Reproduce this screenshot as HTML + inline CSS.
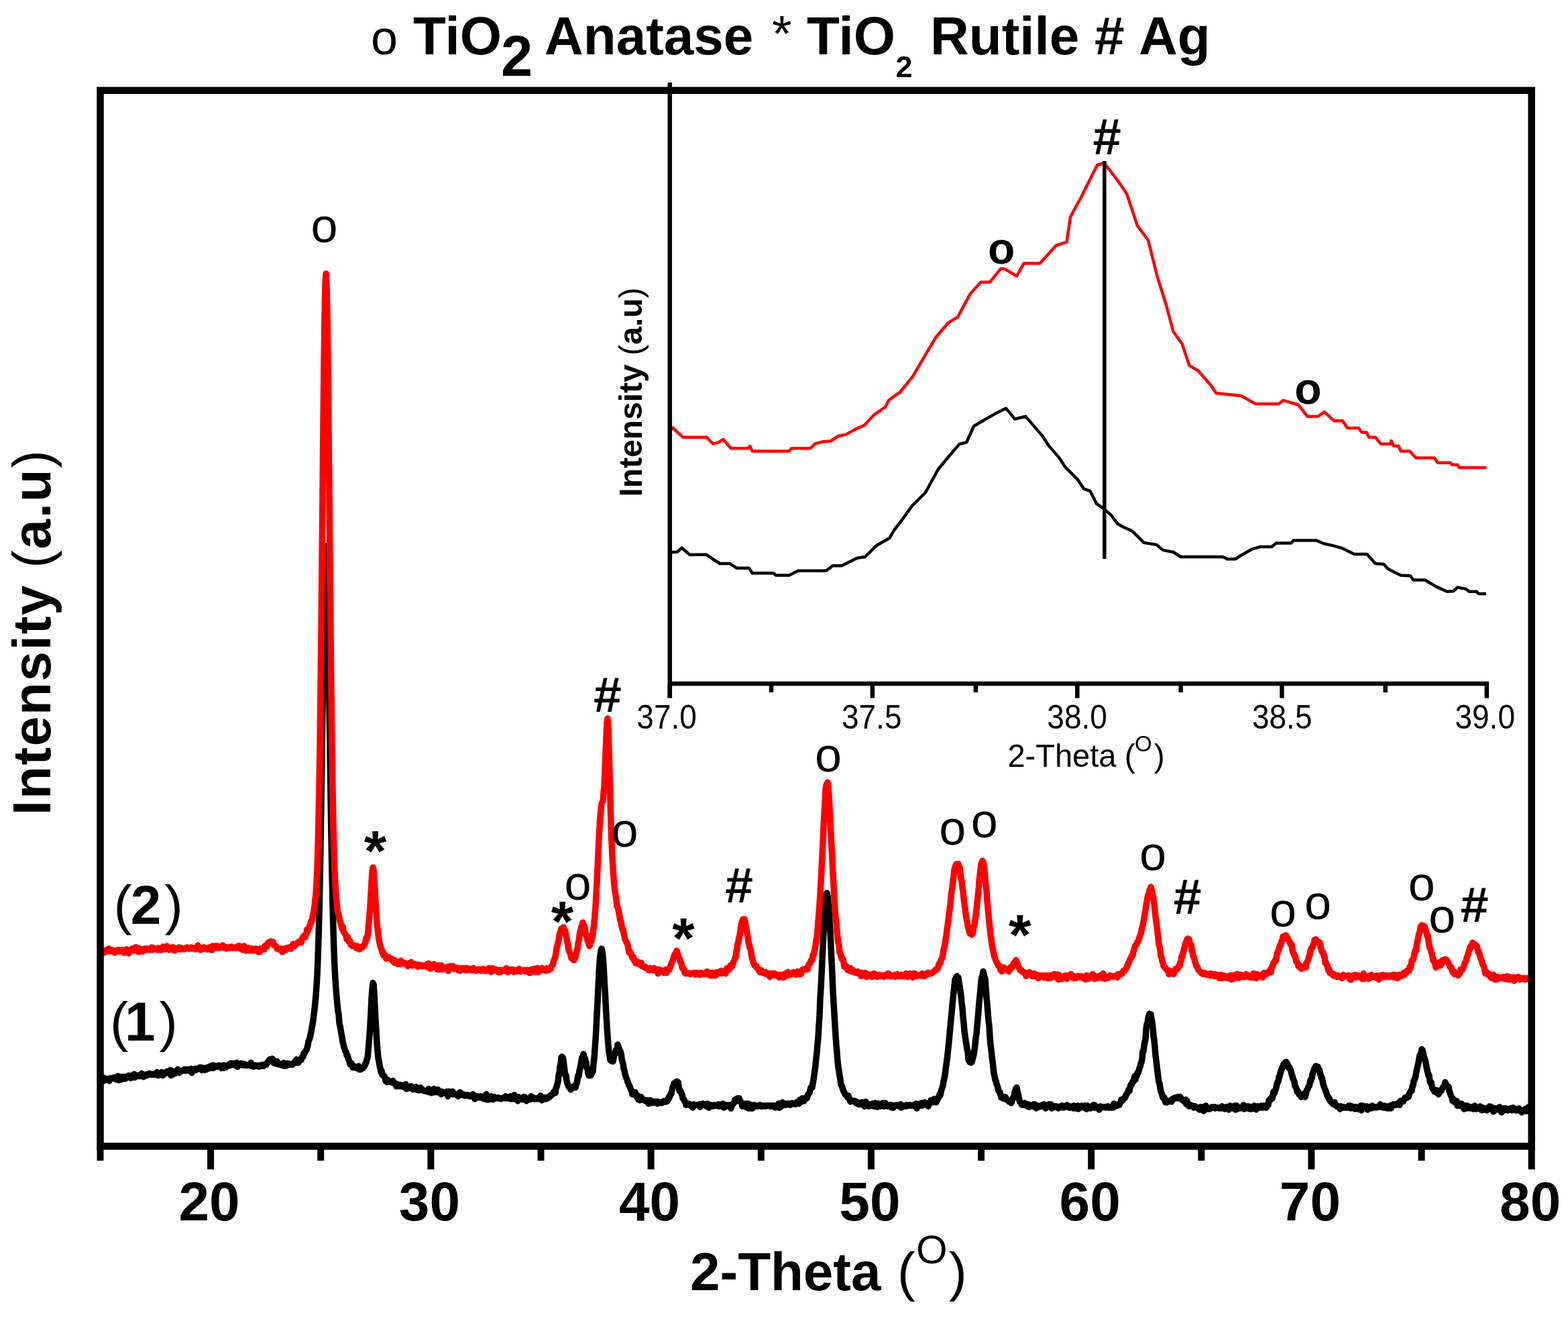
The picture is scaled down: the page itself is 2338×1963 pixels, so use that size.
<!DOCTYPE html>
<html><head><meta charset="utf-8"><style>html,body{margin:0;padding:0;background:#fff;overflow:hidden}svg{display:block}</style></head>
<body>
<svg width="2338" height="1963" viewBox="0 0 2338 1963" font-family="Liberation Sans, Arial, Helvetica, sans-serif">
<rect width="2338" height="1963" fill="#fff"/>
<path d="M152 1609 L153 1612 L154 1606 L155 1608 L156 1609 L157 1608 L158 1609 L159 1610 L160 1608 L161 1608 L162 1609 L163 1611 L164 1608 L165 1607 L166 1608 L167 1608 L168 1607 L169 1607 L170 1606 L171 1606 L172 1606 L173 1609 L174 1606 L175 1607 L176 1604 L177 1610 L178 1605 L179 1606 L180 1606 L181 1609 L182 1605 L183 1606 L184 1608 L185 1605 L186 1607 L187 1608 L188 1605 L189 1606 L190 1605 L191 1605 L192 1603 L193 1605 L194 1604 L195 1607 L196 1606 L197 1603 L198 1605 L199 1604 L200 1601 L201 1606 L202 1605 L203 1603 L204 1604 L205 1604 L206 1603 L207 1604 L208 1603 L209 1604 L210 1604 L211 1600 L212 1603 L213 1602 L214 1605 L215 1602 L216 1602 L217 1602 L218 1603 L219 1603 L220 1601 L221 1601 L222 1602 L223 1600 L224 1601 L225 1601 L226 1602 L227 1602 L228 1601 L229 1601 L230 1601 L231 1602 L232 1600 L233 1600 L234 1598 L235 1600 L236 1603 L237 1602 L238 1600 L239 1602 L240 1601 L241 1598 L242 1600 L243 1603 L244 1599 L245 1600 L246 1599 L247 1600 L248 1598 L249 1597 L250 1597 L251 1597 L252 1598 L253 1598 L254 1595 L255 1603 L256 1597 L257 1597 L258 1598 L259 1601 L260 1597 L261 1600 L262 1598 L263 1598 L264 1596 L265 1594 L266 1597 L267 1599 L268 1597 L269 1596 L270 1597 L271 1596 L272 1596 L273 1596 L274 1596 L275 1594 L276 1595 L277 1596 L278 1594 L279 1594 L280 1594 L281 1596 L282 1594 L283 1596 L284 1597 L285 1593 L286 1599 L287 1596 L288 1594 L289 1594 L290 1594 L291 1593 L292 1595 L293 1593 L294 1594 L295 1593 L296 1593 L297 1592 L298 1591 L299 1593 L300 1591 L301 1595 L302 1592 L303 1592 L304 1592 L305 1595 L306 1592 L307 1592 L308 1594 L309 1591 L310 1593 L311 1591 L312 1590 L313 1591 L314 1592 L315 1590 L316 1588 L317 1590 L318 1592 L319 1588 L320 1590 L321 1590 L322 1589 L323 1590 L324 1589 L325 1590 L326 1589 L327 1588 L328 1590 L329 1589 L330 1592 L331 1589 L332 1588 L333 1588 L334 1592 L335 1588 L336 1591 L337 1591 L338 1589 L339 1588 L340 1588 L341 1587 L342 1586 L343 1588 L344 1585 L345 1587 L346 1587 L347 1587 L348 1585 L349 1587 L350 1586 L351 1588 L352 1586 L353 1584 L354 1590 L355 1587 L356 1588 L357 1588 L358 1586 L359 1586 L360 1585 L361 1586 L362 1587 L363 1588 L364 1586 L365 1586 L366 1588 L367 1588 L368 1588 L369 1588 L370 1587 L371 1587 L372 1588 L373 1587 L374 1584 L375 1589 L376 1588 L377 1589 L378 1590 L379 1588 L380 1588 L381 1588 L382 1589 L383 1588 L384 1589 L385 1589 L386 1590 L387 1588 L388 1589 L389 1589 L390 1589 L391 1587 L392 1588 L393 1589 L394 1588 L395 1587 L396 1586 L397 1587 L398 1585 L399 1583 L400 1583 L401 1581 L402 1579 L403 1580 L404 1581 L405 1580 L406 1578 L407 1579 L408 1584 L409 1581 L410 1585 L411 1582 L412 1583 L413 1582 L414 1586 L415 1586 L416 1586 L417 1587 L418 1587 L419 1586 L420 1587 L421 1588 L422 1588 L423 1584 L424 1589 L425 1589 L426 1587 L427 1588 L428 1588 L429 1585 L430 1587 L431 1587 L432 1587 L433 1586 L434 1586 L435 1586 L436 1587 L437 1586 L438 1585 L439 1583 L440 1584 L441 1583 L442 1579 L443 1584 L444 1583 L445 1584 L446 1581 L447 1580 L448 1579 L449 1580 L450 1576 L451 1575 L452 1575 L453 1570 L454 1570 L455 1568 L456 1566 L457 1565 L458 1562 L459 1558 L460 1552 L461 1550 L462 1547 L463 1543 L464 1538 L465 1532 L466 1527 L467 1520 L468 1512 L469 1505 L470 1494 L471 1484 L472 1469 L473 1454 L474 1429 L475 1398 L476 1361 L477 1315 L478 1260 L479 1196 L480 1127 L481 1055 L482 982 L483 917 L484 864 L485 833 L486 814 L487 827 L488 862 L489 910 L490 975 L491 1046 L492 1117 L493 1186 L494 1250 L495 1303 L496 1349 L497 1386 L498 1417 L499 1442 L500 1460 L501 1474 L502 1487 L503 1497 L504 1507 L505 1512 L506 1525 L507 1529 L508 1535 L509 1541 L510 1546 L511 1553 L512 1556 L513 1561 L514 1564 L515 1567 L516 1568 L517 1573 L518 1573 L519 1576 L520 1580 L521 1582 L522 1586 L523 1586 L524 1585 L525 1586 L526 1591 L527 1591 L528 1590 L529 1590 L530 1590 L531 1592 L532 1592 L533 1592 L534 1593 L535 1589 L536 1594 L537 1594 L538 1594 L539 1593 L540 1593 L541 1592 L542 1591 L543 1590 L544 1588 L545 1585 L546 1584 L547 1579 L548 1577 L549 1567 L550 1555 L551 1543 L552 1528 L553 1510 L554 1488 L555 1475 L556 1465 L557 1467 L558 1480 L559 1501 L560 1521 L561 1537 L562 1555 L563 1566 L564 1577 L565 1582 L566 1588 L567 1592 L568 1598 L569 1596 L570 1602 L571 1602 L572 1604 L573 1604 L574 1606 L575 1611 L576 1610 L577 1613 L578 1610 L579 1610 L580 1611 L581 1612 L582 1612 L583 1613 L584 1613 L585 1614 L586 1611 L587 1614 L588 1615 L589 1616 L590 1615 L591 1619 L592 1619 L593 1616 L594 1618 L595 1617 L596 1619 L597 1617 L598 1619 L599 1618 L600 1618 L601 1620 L602 1619 L603 1620 L604 1620 L605 1616 L606 1623 L607 1623 L608 1622 L609 1621 L610 1621 L611 1620 L612 1622 L613 1619 L614 1621 L615 1623 L616 1624 L617 1622 L618 1622 L619 1623 L620 1620 L621 1624 L622 1623 L623 1624 L624 1625 L625 1624 L626 1625 L627 1621 L628 1624 L629 1624 L630 1624 L631 1625 L632 1626 L633 1626 L634 1626 L635 1626 L636 1627 L637 1625 L638 1625 L639 1623 L640 1628 L641 1627 L642 1627 L643 1629 L644 1626 L645 1627 L646 1628 L647 1623 L648 1628 L649 1627 L650 1626 L651 1627 L652 1628 L653 1624 L654 1627 L655 1629 L656 1629 L657 1628 L658 1631 L659 1627 L660 1629 L661 1629 L662 1629 L663 1629 L664 1629 L665 1630 L666 1627 L667 1631 L668 1634 L669 1627 L670 1627 L671 1630 L672 1630 L673 1630 L674 1628 L675 1627 L676 1631 L677 1631 L678 1631 L679 1631 L680 1631 L681 1631 L682 1631 L683 1634 L684 1632 L685 1632 L686 1628 L687 1632 L688 1631 L689 1632 L690 1632 L691 1631 L692 1633 L693 1633 L694 1633 L695 1633 L696 1633 L697 1632 L698 1633 L699 1633 L700 1634 L701 1633 L702 1634 L703 1634 L704 1634 L705 1631 L706 1635 L707 1633 L708 1638 L709 1635 L710 1635 L711 1635 L712 1634 L713 1635 L714 1636 L715 1636 L716 1635 L717 1634 L718 1636 L719 1637 L720 1637 L721 1636 L722 1638 L723 1637 L724 1636 L725 1631 L726 1639 L727 1638 L728 1635 L729 1639 L730 1637 L731 1636 L732 1634 L733 1638 L734 1638 L735 1639 L736 1636 L737 1635 L738 1636 L739 1637 L740 1637 L741 1637 L742 1637 L743 1636 L744 1637 L745 1637 L746 1637 L747 1638 L748 1637 L749 1637 L750 1637 L751 1636 L752 1636 L753 1637 L754 1634 L755 1637 L756 1636 L757 1637 L758 1637 L759 1636 L760 1635 L761 1634 L762 1638 L763 1638 L764 1637 L765 1637 L766 1638 L767 1632 L768 1634 L769 1638 L770 1638 L771 1639 L772 1641 L773 1635 L774 1638 L775 1638 L776 1637 L777 1638 L778 1638 L779 1639 L780 1638 L781 1635 L782 1635 L783 1639 L784 1638 L785 1641 L786 1637 L787 1638 L788 1638 L789 1638 L790 1639 L791 1636 L792 1634 L793 1638 L794 1637 L795 1636 L796 1638 L797 1638 L798 1638 L799 1637 L800 1638 L801 1637 L802 1638 L803 1637 L804 1637 L805 1637 L806 1633 L807 1637 L808 1640 L809 1636 L810 1637 L811 1636 L812 1637 L813 1636 L814 1638 L815 1637 L816 1637 L817 1637 L818 1635 L819 1634 L820 1635 L821 1633 L822 1632 L823 1632 L824 1631 L825 1629 L826 1627 L827 1626 L828 1629 L829 1622 L830 1620 L831 1616 L832 1612 L833 1603 L834 1599 L835 1590 L836 1586 L837 1576 L838 1575 L839 1576 L840 1580 L841 1588 L842 1596 L843 1603 L844 1603 L845 1611 L846 1615 L847 1617 L848 1620 L849 1621 L850 1622 L851 1624 L852 1622 L853 1622 L854 1620 L855 1621 L856 1620 L857 1618 L858 1621 L859 1616 L860 1615 L861 1609 L862 1603 L863 1604 L864 1596 L865 1592 L866 1587 L867 1581 L868 1576 L869 1575 L870 1571 L871 1575 L872 1577 L873 1581 L874 1584 L875 1592 L876 1593 L877 1600 L878 1603 L879 1603 L880 1603 L881 1603 L882 1601 L883 1599 L884 1597 L885 1585 L886 1577 L887 1563 L888 1550 L889 1533 L890 1511 L891 1494 L892 1471 L893 1451 L894 1436 L895 1424 L896 1417 L897 1414 L898 1418 L899 1426 L900 1439 L901 1458 L902 1475 L903 1494 L904 1513 L905 1530 L906 1544 L907 1557 L908 1568 L909 1573 L910 1580 L911 1581 L912 1579 L913 1582 L914 1582 L915 1576 L916 1573 L917 1571 L918 1567 L919 1564 L920 1566 L921 1557 L922 1561 L923 1562 L924 1567 L925 1567 L926 1570 L927 1577 L928 1583 L929 1585 L930 1593 L931 1595 L932 1601 L933 1604 L934 1607 L935 1609 L936 1613 L937 1615 L938 1618 L939 1619 L940 1622 L941 1625 L942 1626 L943 1631 L944 1628 L945 1628 L946 1630 L947 1628 L948 1631 L949 1634 L950 1636 L951 1633 L952 1639 L953 1636 L954 1640 L955 1637 L956 1635 L957 1638 L958 1639 L959 1639 L960 1639 L961 1640 L962 1641 L963 1640 L964 1640 L965 1641 L966 1640 L967 1645 L968 1641 L969 1640 L970 1640 L971 1641 L972 1642 L973 1644 L974 1642 L975 1642 L976 1643 L977 1642 L978 1643 L979 1644 L980 1645 L981 1642 L982 1643 L983 1643 L984 1644 L985 1643 L986 1643 L987 1644 L988 1643 L989 1643 L990 1641 L991 1642 L992 1642 L993 1642 L994 1642 L995 1641 L996 1638 L997 1638 L998 1634 L999 1634 L1000 1631 L1001 1630 L1002 1625 L1003 1621 L1004 1618 L1005 1615 L1006 1615 L1007 1613 L1008 1613 L1009 1612 L1010 1614 L1011 1613 L1012 1618 L1013 1626 L1014 1625 L1015 1627 L1016 1630 L1017 1631 L1018 1637 L1019 1638 L1020 1639 L1021 1642 L1022 1643 L1023 1647 L1024 1646 L1025 1646 L1026 1646 L1027 1645 L1028 1647 L1029 1648 L1030 1647 L1031 1647 L1032 1647 L1033 1651 L1034 1646 L1035 1647 L1036 1647 L1037 1647 L1038 1647 L1039 1647 L1040 1647 L1041 1647 L1042 1647 L1043 1646 L1044 1650 L1045 1648 L1046 1646 L1047 1647 L1048 1645 L1049 1646 L1050 1647 L1051 1646 L1052 1648 L1053 1649 L1054 1649 L1055 1645 L1056 1648 L1057 1651 L1058 1648 L1059 1649 L1060 1647 L1061 1648 L1062 1648 L1063 1649 L1064 1648 L1065 1647 L1066 1648 L1067 1648 L1068 1648 L1069 1648 L1070 1647 L1071 1646 L1072 1649 L1073 1649 L1074 1648 L1075 1646 L1076 1646 L1077 1648 L1078 1645 L1079 1651 L1080 1647 L1081 1647 L1082 1649 L1083 1648 L1084 1647 L1085 1649 L1086 1648 L1087 1647 L1088 1648 L1089 1649 L1090 1652 L1091 1647 L1092 1647 L1093 1646 L1094 1644 L1095 1643 L1096 1639 L1097 1640 L1098 1638 L1099 1641 L1100 1637 L1101 1637 L1102 1637 L1103 1640 L1104 1641 L1105 1643 L1106 1645 L1107 1649 L1108 1648 L1109 1646 L1110 1648 L1111 1645 L1112 1650 L1113 1650 L1114 1647 L1115 1645 L1116 1652 L1117 1649 L1118 1646 L1119 1652 L1120 1649 L1121 1649 L1122 1652 L1123 1649 L1124 1647 L1125 1649 L1126 1648 L1127 1649 L1128 1648 L1129 1648 L1130 1649 L1131 1648 L1132 1648 L1133 1647 L1134 1649 L1135 1649 L1136 1649 L1137 1648 L1138 1649 L1139 1648 L1140 1648 L1141 1649 L1142 1649 L1143 1648 L1144 1648 L1145 1648 L1146 1648 L1147 1648 L1148 1649 L1149 1648 L1150 1649 L1151 1648 L1152 1648 L1153 1648 L1154 1648 L1155 1650 L1156 1651 L1157 1649 L1158 1649 L1159 1647 L1160 1650 L1161 1645 L1162 1651 L1163 1648 L1164 1650 L1165 1646 L1166 1647 L1167 1643 L1168 1647 L1169 1647 L1170 1646 L1171 1647 L1172 1647 L1173 1646 L1174 1645 L1175 1646 L1176 1645 L1177 1645 L1178 1647 L1179 1645 L1180 1646 L1181 1644 L1182 1645 L1183 1645 L1184 1645 L1185 1645 L1186 1646 L1187 1644 L1188 1644 L1189 1642 L1190 1643 L1191 1645 L1192 1643 L1193 1639 L1194 1643 L1195 1639 L1196 1637 L1197 1640 L1198 1639 L1199 1641 L1200 1637 L1201 1636 L1202 1636 L1203 1637 L1204 1634 L1205 1631 L1206 1630 L1207 1629 L1208 1625 L1209 1621 L1210 1621 L1211 1621 L1212 1615 L1213 1609 L1214 1602 L1215 1595 L1216 1588 L1217 1577 L1218 1569 L1219 1556 L1220 1546 L1221 1529 L1222 1514 L1223 1488 L1224 1473 L1225 1453 L1226 1431 L1227 1410 L1228 1390 L1229 1371 L1230 1357 L1231 1342 L1232 1333 L1233 1331 L1234 1336 L1235 1345 L1236 1357 L1237 1373 L1238 1390 L1239 1410 L1240 1433 L1241 1453 L1242 1477 L1243 1494 L1244 1511 L1245 1528 L1246 1544 L1247 1558 L1248 1569 L1249 1582 L1250 1591 L1251 1596 L1252 1604 L1253 1609 L1254 1617 L1255 1618 L1256 1621 L1257 1624 L1258 1627 L1259 1628 L1260 1631 L1261 1632 L1262 1633 L1263 1634 L1264 1636 L1265 1633 L1266 1637 L1267 1639 L1268 1642 L1269 1640 L1270 1640 L1271 1641 L1272 1641 L1273 1641 L1274 1642 L1275 1641 L1276 1644 L1277 1643 L1278 1643 L1279 1643 L1280 1646 L1281 1644 L1282 1644 L1283 1646 L1284 1644 L1285 1643 L1286 1645 L1287 1644 L1288 1646 L1289 1649 L1290 1647 L1291 1642 L1292 1646 L1293 1648 L1294 1647 L1295 1649 L1296 1648 L1297 1646 L1298 1648 L1299 1647 L1300 1647 L1301 1645 L1302 1647 L1303 1649 L1304 1648 L1305 1644 L1306 1648 L1307 1648 L1308 1650 L1309 1647 L1310 1645 L1311 1648 L1312 1648 L1313 1649 L1314 1648 L1315 1647 L1316 1644 L1317 1647 L1318 1649 L1319 1648 L1320 1644 L1321 1648 L1322 1648 L1323 1649 L1324 1648 L1325 1648 L1326 1647 L1327 1647 L1328 1650 L1329 1647 L1330 1651 L1331 1649 L1332 1651 L1333 1648 L1334 1648 L1335 1648 L1336 1648 L1337 1647 L1338 1648 L1339 1648 L1340 1648 L1341 1649 L1342 1649 L1343 1646 L1344 1651 L1345 1649 L1346 1649 L1347 1649 L1348 1649 L1349 1648 L1350 1648 L1351 1649 L1352 1647 L1353 1648 L1354 1648 L1355 1648 L1356 1647 L1357 1647 L1358 1648 L1359 1648 L1360 1648 L1361 1648 L1362 1647 L1363 1647 L1364 1648 L1365 1647 L1366 1645 L1367 1652 L1368 1647 L1369 1646 L1370 1646 L1371 1646 L1372 1646 L1373 1648 L1374 1644 L1375 1648 L1376 1647 L1377 1647 L1378 1646 L1379 1643 L1380 1645 L1381 1646 L1382 1646 L1383 1646 L1384 1649 L1385 1645 L1386 1645 L1387 1644 L1388 1640 L1389 1643 L1390 1643 L1391 1642 L1392 1643 L1393 1638 L1394 1640 L1395 1641 L1396 1643 L1397 1641 L1398 1638 L1399 1637 L1400 1635 L1401 1631 L1402 1633 L1403 1627 L1404 1624 L1405 1621 L1406 1618 L1407 1612 L1408 1607 L1409 1603 L1410 1594 L1411 1587 L1412 1580 L1413 1571 L1414 1561 L1415 1552 L1416 1541 L1417 1530 L1418 1520 L1419 1509 L1420 1498 L1421 1488 L1422 1479 L1423 1470 L1424 1460 L1425 1460 L1426 1456 L1427 1455 L1428 1456 L1429 1457 L1430 1464 L1431 1470 L1432 1477 L1433 1485 L1434 1495 L1435 1503 L1436 1516 L1437 1525 L1438 1537 L1439 1544 L1440 1551 L1441 1557 L1442 1564 L1443 1567 L1444 1580 L1445 1579 L1446 1583 L1447 1583 L1448 1584 L1449 1583 L1450 1579 L1451 1576 L1452 1571 L1453 1565 L1454 1557 L1455 1547 L1456 1541 L1457 1529 L1458 1519 L1459 1507 L1460 1494 L1461 1485 L1462 1474 L1463 1462 L1464 1456 L1465 1454 L1466 1448 L1467 1453 L1468 1457 L1469 1459 L1470 1473 L1471 1487 L1472 1497 L1473 1509 L1474 1521 L1475 1529 L1476 1546 L1477 1557 L1478 1565 L1479 1575 L1480 1582 L1481 1591 L1482 1600 L1483 1604 L1484 1610 L1485 1611 L1486 1616 L1487 1618 L1488 1622 L1489 1626 L1490 1628 L1491 1628 L1492 1632 L1493 1636 L1494 1634 L1495 1637 L1496 1636 L1497 1637 L1498 1637 L1499 1635 L1500 1639 L1501 1638 L1502 1639 L1503 1640 L1504 1642 L1505 1642 L1506 1641 L1507 1641 L1508 1644 L1509 1641 L1510 1638 L1511 1635 L1512 1636 L1513 1627 L1514 1626 L1515 1622 L1516 1621 L1517 1627 L1518 1630 L1519 1635 L1520 1640 L1521 1643 L1522 1644 L1523 1646 L1524 1647 L1525 1645 L1526 1647 L1527 1647 L1528 1644 L1529 1646 L1530 1647 L1531 1648 L1532 1649 L1533 1646 L1534 1650 L1535 1647 L1536 1649 L1537 1649 L1538 1649 L1539 1648 L1540 1647 L1541 1646 L1542 1648 L1543 1646 L1544 1651 L1545 1652 L1546 1650 L1547 1648 L1548 1650 L1549 1650 L1550 1650 L1551 1649 L1552 1648 L1553 1649 L1554 1647 L1555 1648 L1556 1649 L1557 1646 L1558 1649 L1559 1652 L1560 1651 L1561 1650 L1562 1649 L1563 1647 L1564 1646 L1565 1649 L1566 1650 L1567 1646 L1568 1652 L1569 1649 L1570 1650 L1571 1649 L1572 1649 L1573 1650 L1574 1649 L1575 1649 L1576 1649 L1577 1651 L1578 1652 L1579 1650 L1580 1650 L1581 1651 L1582 1650 L1583 1648 L1584 1648 L1585 1650 L1586 1651 L1587 1650 L1588 1650 L1589 1649 L1590 1650 L1591 1647 L1592 1650 L1593 1650 L1594 1651 L1595 1651 L1596 1649 L1597 1650 L1598 1650 L1599 1651 L1600 1652 L1601 1648 L1602 1650 L1603 1652 L1604 1649 L1605 1652 L1606 1650 L1607 1648 L1608 1653 L1609 1652 L1610 1650 L1611 1651 L1612 1650 L1613 1648 L1614 1649 L1615 1650 L1616 1651 L1617 1648 L1618 1649 L1619 1651 L1620 1653 L1621 1648 L1622 1651 L1623 1649 L1624 1650 L1625 1652 L1626 1652 L1627 1651 L1628 1651 L1629 1650 L1630 1647 L1631 1650 L1632 1647 L1633 1651 L1634 1651 L1635 1650 L1636 1650 L1637 1651 L1638 1650 L1639 1654 L1640 1653 L1641 1649 L1642 1650 L1643 1650 L1644 1650 L1645 1650 L1646 1650 L1647 1650 L1648 1650 L1649 1651 L1650 1650 L1651 1650 L1652 1649 L1653 1651 L1654 1650 L1655 1651 L1656 1650 L1657 1651 L1658 1649 L1659 1650 L1660 1651 L1661 1645 L1662 1649 L1663 1649 L1664 1648 L1665 1648 L1666 1648 L1667 1646 L1668 1646 L1669 1647 L1670 1644 L1671 1643 L1672 1639 L1673 1641 L1674 1640 L1675 1638 L1676 1637 L1677 1637 L1678 1635 L1679 1632 L1680 1631 L1681 1629 L1682 1627 L1683 1624 L1684 1626 L1685 1621 L1686 1617 L1687 1617 L1688 1615 L1689 1612 L1690 1612 L1691 1608 L1692 1604 L1693 1609 L1694 1603 L1695 1604 L1696 1599 L1697 1599 L1698 1596 L1699 1592 L1700 1590 L1701 1585 L1702 1583 L1703 1578 L1704 1567 L1705 1567 L1706 1559 L1707 1553 L1708 1549 L1709 1534 L1710 1527 L1711 1525 L1712 1517 L1713 1514 L1714 1511 L1715 1512 L1716 1512 L1717 1518 L1718 1524 L1719 1532 L1720 1544 L1721 1551 L1722 1561 L1723 1573 L1724 1581 L1725 1589 L1726 1598 L1727 1606 L1728 1613 L1729 1615 L1730 1622 L1731 1627 L1732 1629 L1733 1632 L1734 1636 L1735 1637 L1736 1636 L1737 1640 L1738 1643 L1739 1641 L1740 1643 L1741 1642 L1742 1641 L1743 1642 L1744 1641 L1745 1640 L1746 1640 L1747 1642 L1748 1638 L1749 1639 L1750 1638 L1751 1637 L1752 1636 L1753 1637 L1754 1637 L1755 1636 L1756 1635 L1757 1637 L1758 1635 L1759 1637 L1760 1635 L1761 1637 L1762 1638 L1763 1640 L1764 1640 L1765 1641 L1766 1642 L1767 1643 L1768 1639 L1769 1646 L1770 1641 L1771 1645 L1772 1646 L1773 1649 L1774 1648 L1775 1647 L1776 1648 L1777 1649 L1778 1648 L1779 1649 L1780 1651 L1781 1650 L1782 1649 L1783 1650 L1784 1650 L1785 1651 L1786 1651 L1787 1653 L1788 1651 L1789 1654 L1790 1650 L1791 1651 L1792 1653 L1793 1650 L1794 1651 L1795 1656 L1796 1651 L1797 1654 L1798 1648 L1799 1651 L1800 1652 L1801 1651 L1802 1653 L1803 1652 L1804 1653 L1805 1652 L1806 1652 L1807 1650 L1808 1651 L1809 1651 L1810 1651 L1811 1650 L1812 1652 L1813 1651 L1814 1651 L1815 1651 L1816 1651 L1817 1652 L1818 1651 L1819 1651 L1820 1652 L1821 1652 L1822 1649 L1823 1651 L1824 1651 L1825 1652 L1826 1653 L1827 1651 L1828 1650 L1829 1650 L1830 1651 L1831 1652 L1832 1654 L1833 1650 L1834 1648 L1835 1651 L1836 1649 L1837 1651 L1838 1652 L1839 1650 L1840 1652 L1841 1648 L1842 1654 L1843 1651 L1844 1648 L1845 1653 L1846 1651 L1847 1652 L1848 1652 L1849 1652 L1850 1651 L1851 1651 L1852 1651 L1853 1652 L1854 1647 L1855 1653 L1856 1649 L1857 1651 L1858 1649 L1859 1652 L1860 1649 L1861 1652 L1862 1649 L1863 1653 L1864 1652 L1865 1651 L1866 1653 L1867 1652 L1868 1651 L1869 1651 L1870 1648 L1871 1652 L1872 1653 L1873 1654 L1874 1649 L1875 1651 L1876 1649 L1877 1651 L1878 1651 L1879 1650 L1880 1651 L1881 1648 L1882 1651 L1883 1649 L1884 1650 L1885 1648 L1886 1649 L1887 1648 L1888 1651 L1889 1649 L1890 1646 L1891 1647 L1892 1640 L1893 1639 L1894 1638 L1895 1639 L1896 1636 L1897 1637 L1898 1633 L1899 1627 L1900 1630 L1901 1627 L1902 1624 L1903 1621 L1904 1616 L1905 1613 L1906 1612 L1907 1605 L1908 1604 L1909 1600 L1910 1596 L1911 1594 L1912 1591 L1913 1590 L1914 1586 L1915 1587 L1916 1584 L1917 1583 L1918 1583 L1919 1585 L1920 1586 L1921 1591 L1922 1590 L1923 1591 L1924 1594 L1925 1597 L1926 1601 L1927 1604 L1928 1608 L1929 1610 L1930 1612 L1931 1619 L1932 1620 L1933 1622 L1934 1627 L1935 1626 L1936 1628 L1937 1631 L1938 1631 L1939 1631 L1940 1635 L1941 1634 L1942 1634 L1943 1633 L1944 1630 L1945 1632 L1946 1635 L1947 1631 L1948 1627 L1949 1624 L1950 1623 L1951 1620 L1952 1619 L1953 1615 L1954 1610 L1955 1610 L1956 1607 L1957 1601 L1958 1598 L1959 1596 L1960 1592 L1961 1594 L1962 1589 L1963 1590 L1964 1592 L1965 1590 L1966 1593 L1967 1594 L1968 1597 L1969 1602 L1970 1606 L1971 1606 L1972 1611 L1973 1616 L1974 1619 L1975 1622 L1976 1624 L1977 1627 L1978 1630 L1979 1633 L1980 1634 L1981 1637 L1982 1637 L1983 1640 L1984 1642 L1985 1643 L1986 1644 L1987 1644 L1988 1646 L1989 1643 L1990 1643 L1991 1646 L1992 1647 L1993 1649 L1994 1648 L1995 1649 L1996 1650 L1997 1650 L1998 1653 L1999 1649 L2000 1649 L2001 1651 L2002 1650 L2003 1651 L2004 1650 L2005 1651 L2006 1651 L2007 1651 L2008 1651 L2009 1651 L2010 1651 L2011 1648 L2012 1651 L2013 1648 L2014 1652 L2015 1651 L2016 1649 L2017 1651 L2018 1650 L2019 1652 L2020 1653 L2021 1650 L2022 1650 L2023 1651 L2024 1653 L2025 1651 L2026 1652 L2027 1650 L2028 1654 L2029 1648 L2030 1655 L2031 1650 L2032 1648 L2033 1651 L2034 1650 L2035 1651 L2036 1651 L2037 1649 L2038 1649 L2039 1654 L2040 1650 L2041 1650 L2042 1652 L2043 1651 L2044 1651 L2045 1652 L2046 1648 L2047 1651 L2048 1650 L2049 1650 L2050 1650 L2051 1650 L2052 1651 L2053 1650 L2054 1650 L2055 1650 L2056 1650 L2057 1649 L2058 1646 L2059 1650 L2060 1649 L2061 1650 L2062 1649 L2063 1651 L2064 1648 L2065 1650 L2066 1649 L2067 1651 L2068 1652 L2069 1649 L2070 1649 L2071 1652 L2072 1649 L2073 1651 L2074 1652 L2075 1647 L2076 1648 L2077 1647 L2078 1646 L2079 1647 L2080 1647 L2081 1647 L2082 1647 L2083 1645 L2084 1645 L2085 1646 L2086 1645 L2087 1647 L2088 1641 L2089 1642 L2090 1642 L2091 1641 L2092 1642 L2093 1639 L2094 1638 L2095 1636 L2096 1637 L2097 1637 L2098 1635 L2099 1634 L2100 1635 L2101 1632 L2102 1629 L2103 1627 L2104 1625 L2105 1626 L2106 1619 L2107 1618 L2108 1611 L2109 1610 L2110 1607 L2111 1603 L2112 1597 L2113 1592 L2114 1589 L2115 1584 L2116 1578 L2117 1573 L2118 1571 L2119 1569 L2120 1564 L2121 1565 L2122 1569 L2123 1575 L2124 1577 L2125 1580 L2126 1585 L2127 1590 L2128 1595 L2129 1599 L2130 1603 L2131 1603 L2132 1612 L2133 1614 L2134 1613 L2135 1619 L2136 1622 L2137 1624 L2138 1624 L2139 1627 L2140 1627 L2141 1628 L2142 1625 L2143 1629 L2144 1629 L2145 1631 L2146 1629 L2147 1626 L2148 1627 L2149 1626 L2150 1623 L2151 1622 L2152 1620 L2153 1619 L2154 1617 L2155 1613 L2156 1617 L2157 1617 L2158 1619 L2159 1620 L2160 1620 L2161 1627 L2162 1628 L2163 1632 L2164 1634 L2165 1636 L2166 1641 L2167 1638 L2168 1642 L2169 1643 L2170 1643 L2171 1642 L2172 1641 L2173 1648 L2174 1647 L2175 1646 L2176 1648 L2177 1647 L2178 1647 L2179 1645 L2180 1649 L2181 1647 L2182 1650 L2183 1653 L2184 1648 L2185 1648 L2186 1650 L2187 1652 L2188 1648 L2189 1651 L2190 1650 L2191 1650 L2192 1652 L2193 1651 L2194 1650 L2195 1651 L2196 1650 L2197 1653 L2198 1652 L2199 1648 L2200 1649 L2201 1653 L2202 1652 L2203 1652 L2204 1652 L2205 1652 L2206 1653 L2207 1649 L2208 1654 L2209 1651 L2210 1655 L2211 1651 L2212 1654 L2213 1653 L2214 1654 L2215 1652 L2216 1652 L2217 1655 L2218 1652 L2219 1652 L2220 1653 L2221 1649 L2222 1653 L2223 1653 L2224 1650 L2225 1652 L2226 1652 L2227 1657 L2228 1652 L2229 1654 L2230 1653 L2231 1653 L2232 1652 L2233 1654 L2234 1654 L2235 1652 L2236 1650 L2237 1654 L2238 1653 L2239 1658 L2240 1653 L2241 1654 L2242 1652 L2243 1655 L2244 1653 L2245 1652 L2246 1653 L2247 1653 L2248 1655 L2249 1653 L2250 1653 L2251 1654 L2252 1652 L2253 1654 L2254 1655 L2255 1654 L2256 1651 L2257 1654 L2258 1654 L2259 1653 L2260 1655 L2261 1653 L2262 1655 L2263 1655 L2264 1654 L2265 1652 L2266 1655 L2267 1655 L2268 1655 L2269 1658 L2270 1656 L2271 1655 L2272 1655 L2273 1654 L2274 1653 L2275 1656 L2276 1655 L2277 1654 L2278 1656 L2279 1650 L2280 1653 L2281 1655" fill="none" stroke="#000" stroke-width="9.5" stroke-linejoin="round"/>
<path d="M152 1418 L153 1418 L154 1418 L155 1420 L156 1418 L157 1417 L158 1416 L159 1418 L160 1417 L161 1416 L162 1414 L163 1417 L164 1418 L165 1418 L166 1418 L167 1416 L168 1417 L169 1417 L170 1417 L171 1420 L172 1417 L173 1418 L174 1418 L175 1417 L176 1416 L177 1418 L178 1416 L179 1418 L180 1418 L181 1416 L182 1417 L183 1416 L184 1417 L185 1420 L186 1420 L187 1417 L188 1416 L189 1415 L190 1419 L191 1416 L192 1421 L193 1416 L194 1416 L195 1416 L196 1415 L197 1414 L198 1417 L199 1415 L200 1416 L201 1416 L202 1412 L203 1412 L204 1416 L205 1418 L206 1416 L207 1419 L208 1414 L209 1416 L210 1415 L211 1416 L212 1415 L213 1418 L214 1415 L215 1415 L216 1414 L217 1416 L218 1414 L219 1414 L220 1415 L221 1415 L222 1415 L223 1416 L224 1415 L225 1415 L226 1412 L227 1416 L228 1413 L229 1413 L230 1414 L231 1414 L232 1415 L233 1414 L234 1415 L235 1416 L236 1413 L237 1415 L238 1416 L239 1415 L240 1416 L241 1414 L242 1413 L243 1411 L244 1412 L245 1415 L246 1414 L247 1414 L248 1414 L249 1410 L250 1414 L251 1415 L252 1416 L253 1414 L254 1415 L255 1414 L256 1413 L257 1412 L258 1412 L259 1416 L260 1416 L261 1417 L262 1414 L263 1415 L264 1415 L265 1414 L266 1414 L267 1412 L268 1415 L269 1415 L270 1413 L271 1414 L272 1414 L273 1415 L274 1414 L275 1415 L276 1414 L277 1413 L278 1413 L279 1412 L280 1413 L281 1414 L282 1414 L283 1413 L284 1414 L285 1412 L286 1413 L287 1414 L288 1414 L289 1413 L290 1414 L291 1415 L292 1413 L293 1414 L294 1412 L295 1409 L296 1414 L297 1413 L298 1414 L299 1416 L300 1413 L301 1414 L302 1415 L303 1413 L304 1412 L305 1414 L306 1414 L307 1414 L308 1413 L309 1415 L310 1413 L311 1414 L312 1412 L313 1413 L314 1413 L315 1416 L316 1416 L317 1410 L318 1414 L319 1412 L320 1410 L321 1410 L322 1412 L323 1413 L324 1410 L325 1413 L326 1411 L327 1413 L328 1413 L329 1412 L330 1411 L331 1412 L332 1409 L333 1410 L334 1413 L335 1411 L336 1412 L337 1414 L338 1414 L339 1412 L340 1412 L341 1412 L342 1413 L343 1412 L344 1413 L345 1411 L346 1413 L347 1413 L348 1413 L349 1413 L350 1412 L351 1412 L352 1413 L353 1413 L354 1412 L355 1410 L356 1410 L357 1410 L358 1414 L359 1413 L360 1415 L361 1415 L362 1416 L363 1412 L364 1410 L365 1412 L366 1415 L367 1417 L368 1413 L369 1415 L370 1413 L371 1416 L372 1417 L373 1414 L374 1414 L375 1414 L376 1414 L377 1415 L378 1417 L379 1416 L380 1415 L381 1414 L382 1414 L383 1415 L384 1417 L385 1419 L386 1415 L387 1419 L388 1414 L389 1416 L390 1415 L391 1415 L392 1414 L393 1413 L394 1415 L395 1410 L396 1410 L397 1410 L398 1411 L399 1406 L400 1405 L401 1406 L402 1404 L403 1405 L404 1403 L405 1404 L406 1406 L407 1404 L408 1408 L409 1408 L410 1410 L411 1410 L412 1411 L413 1414 L414 1414 L415 1415 L416 1415 L417 1415 L418 1415 L419 1414 L420 1415 L421 1419 L422 1416 L423 1417 L424 1414 L425 1416 L426 1416 L427 1413 L428 1414 L429 1414 L430 1414 L431 1412 L432 1413 L433 1412 L434 1414 L435 1412 L436 1411 L437 1407 L438 1411 L439 1410 L440 1408 L441 1408 L442 1407 L443 1406 L444 1405 L445 1404 L446 1404 L447 1403 L448 1403 L449 1405 L450 1400 L451 1399 L452 1396 L453 1395 L454 1394 L455 1397 L456 1393 L457 1391 L458 1385 L459 1388 L460 1384 L461 1383 L462 1379 L463 1376 L464 1373 L465 1373 L466 1368 L467 1363 L468 1357 L469 1351 L470 1340 L471 1333 L472 1316 L473 1295 L474 1264 L475 1222 L476 1172 L477 1110 L478 1029 L479 938 L480 839 L481 734 L482 632 L483 542 L484 469 L485 424 L486 408 L487 423 L488 467 L489 543 L490 635 L491 735 L492 841 L493 940 L494 1033 L495 1111 L496 1176 L497 1231 L498 1268 L499 1298 L500 1318 L501 1334 L502 1345 L503 1355 L504 1361 L505 1364 L506 1369 L507 1373 L508 1377 L509 1380 L510 1384 L511 1381 L512 1388 L513 1390 L514 1391 L515 1393 L516 1395 L517 1400 L518 1396 L519 1399 L520 1403 L521 1403 L522 1403 L523 1408 L524 1407 L525 1410 L526 1409 L527 1409 L528 1409 L529 1411 L530 1411 L531 1413 L532 1410 L533 1412 L534 1413 L535 1411 L536 1415 L537 1412 L538 1413 L539 1411 L540 1412 L541 1412 L542 1410 L543 1409 L544 1407 L545 1404 L546 1398 L547 1400 L548 1395 L549 1387 L550 1376 L551 1363 L552 1350 L553 1333 L554 1315 L555 1299 L556 1293 L557 1296 L558 1310 L559 1327 L560 1345 L561 1361 L562 1376 L563 1384 L564 1393 L565 1401 L566 1405 L567 1410 L568 1413 L569 1415 L570 1420 L571 1419 L572 1424 L573 1422 L574 1423 L575 1425 L576 1429 L577 1426 L578 1427 L579 1428 L580 1427 L581 1429 L582 1429 L583 1429 L584 1430 L585 1430 L586 1433 L587 1433 L588 1435 L589 1431 L590 1435 L591 1434 L592 1434 L593 1437 L594 1435 L595 1434 L596 1434 L597 1437 L598 1432 L599 1434 L600 1435 L601 1436 L602 1435 L603 1436 L604 1437 L605 1436 L606 1437 L607 1438 L608 1440 L609 1436 L610 1438 L611 1437 L612 1437 L613 1434 L614 1439 L615 1438 L616 1438 L617 1439 L618 1438 L619 1437 L620 1438 L621 1439 L622 1438 L623 1441 L624 1438 L625 1438 L626 1440 L627 1440 L628 1439 L629 1439 L630 1440 L631 1440 L632 1440 L633 1439 L634 1440 L635 1440 L636 1440 L637 1437 L638 1442 L639 1436 L640 1440 L641 1440 L642 1444 L643 1441 L644 1440 L645 1441 L646 1442 L647 1437 L648 1441 L649 1442 L650 1441 L651 1440 L652 1445 L653 1441 L654 1439 L655 1445 L656 1442 L657 1444 L658 1439 L659 1445 L660 1442 L661 1442 L662 1442 L663 1442 L664 1442 L665 1442 L666 1445 L667 1441 L668 1447 L669 1442 L670 1443 L671 1440 L672 1443 L673 1443 L674 1443 L675 1440 L676 1444 L677 1443 L678 1444 L679 1442 L680 1442 L681 1444 L682 1443 L683 1446 L684 1444 L685 1443 L686 1447 L687 1445 L688 1444 L689 1443 L690 1444 L691 1445 L692 1443 L693 1446 L694 1444 L695 1443 L696 1443 L697 1446 L698 1444 L699 1444 L700 1444 L701 1444 L702 1446 L703 1445 L704 1446 L705 1445 L706 1443 L707 1446 L708 1445 L709 1445 L710 1447 L711 1445 L712 1446 L713 1446 L714 1445 L715 1446 L716 1445 L717 1447 L718 1447 L719 1446 L720 1444 L721 1446 L722 1446 L723 1447 L724 1446 L725 1447 L726 1445 L727 1446 L728 1446 L729 1443 L730 1446 L731 1448 L732 1449 L733 1446 L734 1443 L735 1447 L736 1446 L737 1445 L738 1446 L739 1445 L740 1446 L741 1447 L742 1447 L743 1449 L744 1446 L745 1446 L746 1449 L747 1446 L748 1447 L749 1447 L750 1446 L751 1446 L752 1447 L753 1445 L754 1446 L755 1443 L756 1446 L757 1449 L758 1446 L759 1446 L760 1447 L761 1447 L762 1445 L763 1446 L764 1445 L765 1448 L766 1449 L767 1446 L768 1446 L769 1446 L770 1446 L771 1448 L772 1447 L773 1447 L774 1444 L775 1446 L776 1448 L777 1447 L778 1447 L779 1446 L780 1447 L781 1447 L782 1446 L783 1448 L784 1447 L785 1446 L786 1446 L787 1447 L788 1447 L789 1450 L790 1447 L791 1450 L792 1445 L793 1446 L794 1445 L795 1446 L796 1444 L797 1444 L798 1445 L799 1449 L800 1447 L801 1443 L802 1446 L803 1449 L804 1444 L805 1447 L806 1444 L807 1444 L808 1443 L809 1445 L810 1445 L811 1446 L812 1446 L813 1446 L814 1447 L815 1443 L816 1444 L817 1444 L818 1446 L819 1444 L820 1444 L821 1444 L822 1441 L823 1439 L824 1438 L825 1434 L826 1431 L827 1429 L828 1426 L829 1420 L830 1413 L831 1410 L832 1405 L833 1402 L834 1394 L835 1391 L836 1388 L837 1384 L838 1384 L839 1383 L840 1382 L841 1388 L842 1386 L843 1388 L844 1395 L845 1399 L846 1405 L847 1409 L848 1417 L849 1418 L850 1421 L851 1423 L852 1428 L853 1429 L854 1429 L855 1431 L856 1431 L857 1428 L858 1427 L859 1421 L860 1419 L861 1414 L862 1406 L863 1403 L864 1395 L865 1388 L866 1385 L867 1381 L868 1380 L869 1375 L870 1380 L871 1379 L872 1384 L873 1390 L874 1395 L875 1394 L876 1402 L877 1403 L878 1407 L879 1410 L880 1406 L881 1404 L882 1402 L883 1397 L884 1392 L885 1384 L886 1375 L887 1364 L888 1351 L889 1333 L890 1315 L891 1294 L892 1272 L893 1250 L894 1232 L895 1217 L896 1207 L897 1198 L898 1196 L899 1194 L900 1181 L901 1173 L902 1149 L903 1122 L904 1099 L905 1077 L906 1071 L907 1089 L908 1117 L909 1155 L910 1194 L911 1228 L912 1255 L913 1277 L914 1294 L915 1309 L916 1320 L917 1329 L918 1334 L919 1341 L920 1351 L921 1352 L922 1356 L923 1361 L924 1367 L925 1372 L926 1374 L927 1381 L928 1385 L929 1385 L930 1391 L931 1395 L932 1400 L933 1402 L934 1404 L935 1406 L936 1409 L937 1414 L938 1420 L939 1418 L940 1421 L941 1422 L942 1424 L943 1428 L944 1426 L945 1428 L946 1432 L947 1432 L948 1436 L949 1433 L950 1433 L951 1434 L952 1435 L953 1437 L954 1437 L955 1438 L956 1435 L957 1440 L958 1440 L959 1440 L960 1440 L961 1442 L962 1441 L963 1443 L964 1443 L965 1443 L966 1444 L967 1446 L968 1445 L969 1446 L970 1443 L971 1445 L972 1445 L973 1445 L974 1446 L975 1443 L976 1446 L977 1444 L978 1446 L979 1445 L980 1446 L981 1451 L982 1445 L983 1445 L984 1447 L985 1446 L986 1448 L987 1447 L988 1447 L989 1447 L990 1450 L991 1448 L992 1449 L993 1445 L994 1450 L995 1447 L996 1446 L997 1445 L998 1445 L999 1442 L1000 1439 L1001 1437 L1002 1434 L1003 1432 L1004 1429 L1005 1425 L1006 1423 L1007 1421 L1008 1421 L1009 1417 L1010 1421 L1011 1423 L1012 1427 L1013 1428 L1014 1432 L1015 1435 L1016 1436 L1017 1442 L1018 1444 L1019 1445 L1020 1445 L1021 1450 L1022 1451 L1023 1450 L1024 1451 L1025 1451 L1026 1451 L1027 1451 L1028 1451 L1029 1452 L1030 1451 L1031 1451 L1032 1451 L1033 1451 L1034 1451 L1035 1450 L1036 1452 L1037 1453 L1038 1450 L1039 1452 L1040 1450 L1041 1452 L1042 1451 L1043 1451 L1044 1453 L1045 1450 L1046 1452 L1047 1452 L1048 1451 L1049 1451 L1050 1452 L1051 1451 L1052 1452 L1053 1452 L1054 1448 L1055 1451 L1056 1451 L1057 1450 L1058 1450 L1059 1454 L1060 1451 L1061 1450 L1062 1451 L1063 1454 L1064 1450 L1065 1450 L1066 1452 L1067 1454 L1068 1452 L1069 1449 L1070 1451 L1071 1449 L1072 1450 L1073 1450 L1074 1450 L1075 1447 L1076 1451 L1077 1448 L1078 1450 L1079 1448 L1080 1447 L1081 1448 L1082 1451 L1083 1447 L1084 1443 L1085 1446 L1086 1446 L1087 1444 L1088 1444 L1089 1439 L1090 1441 L1091 1441 L1092 1438 L1093 1435 L1094 1433 L1095 1431 L1096 1428 L1097 1427 L1098 1418 L1099 1415 L1100 1406 L1101 1404 L1102 1398 L1103 1394 L1104 1387 L1105 1380 L1106 1375 L1107 1372 L1108 1370 L1109 1371 L1110 1370 L1111 1373 L1112 1382 L1113 1385 L1114 1391 L1115 1397 L1116 1404 L1117 1408 L1118 1413 L1119 1414 L1120 1420 L1121 1427 L1122 1430 L1123 1434 L1124 1436 L1125 1439 L1126 1440 L1127 1441 L1128 1440 L1129 1443 L1130 1444 L1131 1446 L1132 1447 L1133 1449 L1134 1448 L1135 1446 L1136 1448 L1137 1450 L1138 1450 L1139 1450 L1140 1451 L1141 1451 L1142 1449 L1143 1452 L1144 1452 L1145 1451 L1146 1451 L1147 1453 L1148 1456 L1149 1454 L1150 1451 L1151 1452 L1152 1451 L1153 1452 L1154 1452 L1155 1451 L1156 1454 L1157 1454 L1158 1453 L1159 1453 L1160 1453 L1161 1453 L1162 1457 L1163 1453 L1164 1454 L1165 1453 L1166 1453 L1167 1457 L1168 1453 L1169 1457 L1170 1453 L1171 1451 L1172 1451 L1173 1452 L1174 1454 L1175 1449 L1176 1451 L1177 1453 L1178 1453 L1179 1453 L1180 1451 L1181 1451 L1182 1451 L1183 1449 L1184 1451 L1185 1451 L1186 1452 L1187 1453 L1188 1451 L1189 1448 L1190 1449 L1191 1449 L1192 1452 L1193 1449 L1194 1452 L1195 1447 L1196 1446 L1197 1445 L1198 1446 L1199 1445 L1200 1445 L1201 1444 L1202 1444 L1203 1443 L1204 1445 L1205 1440 L1206 1438 L1207 1436 L1208 1436 L1209 1432 L1210 1432 L1211 1431 L1212 1424 L1213 1424 L1214 1419 L1215 1415 L1216 1409 L1217 1402 L1218 1397 L1219 1387 L1220 1374 L1221 1361 L1222 1348 L1223 1332 L1224 1315 L1225 1297 L1226 1275 L1227 1256 L1228 1232 L1229 1214 L1230 1196 L1231 1176 L1232 1170 L1233 1168 L1234 1166 L1235 1174 L1236 1187 L1237 1204 L1238 1226 L1239 1244 L1240 1264 L1241 1282 L1242 1303 L1243 1319 L1244 1340 L1245 1355 L1246 1368 L1247 1374 L1248 1389 L1249 1398 L1250 1405 L1251 1409 L1252 1420 L1253 1421 L1254 1425 L1255 1429 L1256 1428 L1257 1430 L1258 1435 L1259 1441 L1260 1439 L1261 1439 L1262 1441 L1263 1442 L1264 1446 L1265 1445 L1266 1445 L1267 1444 L1268 1443 L1269 1448 L1270 1448 L1271 1448 L1272 1446 L1273 1448 L1274 1448 L1275 1450 L1276 1450 L1277 1450 L1278 1450 L1279 1448 L1280 1450 L1281 1451 L1282 1452 L1283 1451 L1284 1455 L1285 1450 L1286 1451 L1287 1453 L1288 1454 L1289 1453 L1290 1450 L1291 1454 L1292 1456 L1293 1454 L1294 1452 L1295 1454 L1296 1454 L1297 1454 L1298 1453 L1299 1454 L1300 1456 L1301 1452 L1302 1454 L1303 1451 L1304 1455 L1305 1452 L1306 1454 L1307 1456 L1308 1456 L1309 1455 L1310 1455 L1311 1453 L1312 1455 L1313 1454 L1314 1454 L1315 1454 L1316 1455 L1317 1454 L1318 1456 L1319 1454 L1320 1454 L1321 1453 L1322 1454 L1323 1454 L1324 1451 L1325 1452 L1326 1452 L1327 1455 L1328 1454 L1329 1454 L1330 1455 L1331 1455 L1332 1455 L1333 1454 L1334 1453 L1335 1456 L1336 1455 L1337 1455 L1338 1452 L1339 1454 L1340 1454 L1341 1454 L1342 1455 L1343 1454 L1344 1453 L1345 1454 L1346 1455 L1347 1454 L1348 1455 L1349 1455 L1350 1454 L1351 1451 L1352 1453 L1353 1456 L1354 1455 L1355 1454 L1356 1455 L1357 1451 L1358 1455 L1359 1456 L1360 1453 L1361 1457 L1362 1451 L1363 1454 L1364 1451 L1365 1454 L1366 1454 L1367 1455 L1368 1454 L1369 1454 L1370 1454 L1371 1454 L1372 1454 L1373 1453 L1374 1453 L1375 1451 L1376 1455 L1377 1453 L1378 1455 L1379 1452 L1380 1452 L1381 1452 L1382 1451 L1383 1450 L1384 1452 L1385 1450 L1386 1451 L1387 1451 L1388 1451 L1389 1451 L1390 1450 L1391 1449 L1392 1448 L1393 1448 L1394 1447 L1395 1445 L1396 1446 L1397 1445 L1398 1444 L1399 1442 L1400 1437 L1401 1437 L1402 1435 L1403 1431 L1404 1430 L1405 1427 L1406 1422 L1407 1415 L1408 1412 L1409 1408 L1410 1400 L1411 1395 L1412 1385 L1413 1379 L1414 1372 L1415 1363 L1416 1355 L1417 1349 L1418 1337 L1419 1328 L1420 1323 L1421 1312 L1422 1306 L1423 1296 L1424 1293 L1425 1290 L1426 1288 L1427 1289 L1428 1288 L1429 1288 L1430 1293 L1431 1293 L1432 1302 L1433 1309 L1434 1314 L1435 1322 L1436 1329 L1437 1339 L1438 1347 L1439 1354 L1440 1363 L1441 1368 L1442 1373 L1443 1381 L1444 1384 L1445 1387 L1446 1391 L1447 1392 L1448 1391 L1449 1393 L1450 1392 L1451 1389 L1452 1381 L1453 1378 L1454 1371 L1455 1365 L1456 1355 L1457 1346 L1458 1336 L1459 1328 L1460 1313 L1461 1304 L1462 1296 L1463 1289 L1464 1285 L1465 1283 L1466 1285 L1467 1291 L1468 1297 L1469 1309 L1470 1320 L1471 1328 L1472 1343 L1473 1354 L1474 1364 L1475 1375 L1476 1384 L1477 1393 L1478 1400 L1479 1408 L1480 1413 L1481 1417 L1482 1423 L1483 1427 L1484 1429 L1485 1432 L1486 1434 L1487 1436 L1488 1438 L1489 1440 L1490 1439 L1491 1442 L1492 1446 L1493 1444 L1494 1448 L1495 1444 L1496 1445 L1497 1442 L1498 1445 L1499 1445 L1500 1445 L1501 1446 L1502 1445 L1503 1446 L1504 1448 L1505 1445 L1506 1442 L1507 1444 L1508 1442 L1509 1442 L1510 1439 L1511 1437 L1512 1435 L1513 1436 L1514 1436 L1515 1431 L1516 1436 L1517 1436 L1518 1440 L1519 1442 L1520 1443 L1521 1446 L1522 1446 L1523 1446 L1524 1448 L1525 1449 L1526 1449 L1527 1449 L1528 1450 L1529 1451 L1530 1455 L1531 1451 L1532 1452 L1533 1452 L1534 1452 L1535 1449 L1536 1452 L1537 1453 L1538 1454 L1539 1455 L1540 1455 L1541 1455 L1542 1451 L1543 1454 L1544 1453 L1545 1454 L1546 1453 L1547 1454 L1548 1458 L1549 1455 L1550 1456 L1551 1454 L1552 1454 L1553 1454 L1554 1455 L1555 1456 L1556 1457 L1557 1454 L1558 1455 L1559 1455 L1560 1455 L1561 1454 L1562 1458 L1563 1456 L1564 1458 L1565 1454 L1566 1458 L1567 1454 L1568 1456 L1569 1455 L1570 1455 L1571 1455 L1572 1452 L1573 1452 L1574 1454 L1575 1457 L1576 1453 L1577 1453 L1578 1460 L1579 1453 L1580 1456 L1581 1456 L1582 1457 L1583 1456 L1584 1459 L1585 1456 L1586 1456 L1587 1457 L1588 1454 L1589 1456 L1590 1456 L1591 1459 L1592 1454 L1593 1456 L1594 1455 L1595 1456 L1596 1453 L1597 1452 L1598 1456 L1599 1454 L1600 1455 L1601 1458 L1602 1456 L1603 1456 L1604 1456 L1605 1458 L1606 1456 L1607 1455 L1608 1456 L1609 1455 L1610 1456 L1611 1456 L1612 1455 L1613 1457 L1614 1456 L1615 1456 L1616 1456 L1617 1459 L1618 1460 L1619 1456 L1620 1454 L1621 1454 L1622 1456 L1623 1459 L1624 1458 L1625 1456 L1626 1455 L1627 1456 L1628 1455 L1629 1452 L1630 1455 L1631 1457 L1632 1459 L1633 1456 L1634 1455 L1635 1458 L1636 1458 L1637 1456 L1638 1455 L1639 1457 L1640 1456 L1641 1457 L1642 1453 L1643 1456 L1644 1458 L1645 1451 L1646 1454 L1647 1459 L1648 1455 L1649 1456 L1650 1456 L1651 1457 L1652 1458 L1653 1456 L1654 1455 L1655 1454 L1656 1455 L1657 1455 L1658 1455 L1659 1455 L1660 1456 L1661 1455 L1662 1455 L1663 1455 L1664 1455 L1665 1454 L1666 1457 L1667 1452 L1668 1454 L1669 1452 L1670 1453 L1671 1452 L1672 1452 L1673 1451 L1674 1449 L1675 1447 L1676 1448 L1677 1446 L1678 1445 L1679 1444 L1680 1442 L1681 1440 L1682 1436 L1683 1435 L1684 1433 L1685 1430 L1686 1428 L1687 1426 L1688 1424 L1689 1424 L1690 1418 L1691 1416 L1692 1412 L1693 1409 L1694 1409 L1695 1407 L1696 1404 L1697 1403 L1698 1401 L1699 1397 L1700 1394 L1701 1392 L1702 1387 L1703 1382 L1704 1379 L1705 1374 L1706 1368 L1707 1362 L1708 1357 L1709 1350 L1710 1344 L1711 1338 L1712 1334 L1713 1332 L1714 1327 L1715 1325 L1716 1322 L1717 1326 L1718 1330 L1719 1335 L1720 1340 L1721 1347 L1722 1357 L1723 1367 L1724 1373 L1725 1381 L1726 1389 L1727 1398 L1728 1408 L1729 1411 L1730 1417 L1731 1426 L1732 1427 L1733 1433 L1734 1435 L1735 1440 L1736 1441 L1737 1442 L1738 1444 L1739 1444 L1740 1446 L1741 1446 L1742 1448 L1743 1452 L1744 1447 L1745 1449 L1746 1451 L1747 1449 L1748 1448 L1749 1448 L1750 1452 L1751 1448 L1752 1446 L1753 1444 L1754 1444 L1755 1445 L1756 1443 L1757 1442 L1758 1439 L1759 1440 L1760 1434 L1761 1432 L1762 1425 L1763 1426 L1764 1420 L1765 1417 L1766 1413 L1767 1409 L1768 1405 L1769 1403 L1770 1400 L1771 1399 L1772 1401 L1773 1400 L1774 1405 L1775 1407 L1776 1408 L1777 1415 L1778 1419 L1779 1425 L1780 1426 L1781 1430 L1782 1434 L1783 1437 L1784 1440 L1785 1441 L1786 1443 L1787 1446 L1788 1447 L1789 1448 L1790 1448 L1791 1450 L1792 1451 L1793 1451 L1794 1452 L1795 1452 L1796 1450 L1797 1452 L1798 1452 L1799 1453 L1800 1452 L1801 1453 L1802 1452 L1803 1453 L1804 1454 L1805 1451 L1806 1454 L1807 1454 L1808 1452 L1809 1454 L1810 1454 L1811 1455 L1812 1452 L1813 1454 L1814 1455 L1815 1453 L1816 1454 L1817 1455 L1818 1458 L1819 1454 L1820 1453 L1821 1454 L1822 1454 L1823 1458 L1824 1454 L1825 1456 L1826 1455 L1827 1457 L1828 1455 L1829 1457 L1830 1458 L1831 1456 L1832 1455 L1833 1456 L1834 1454 L1835 1455 L1836 1460 L1837 1454 L1838 1456 L1839 1459 L1840 1454 L1841 1454 L1842 1454 L1843 1456 L1844 1452 L1845 1452 L1846 1456 L1847 1458 L1848 1455 L1849 1455 L1850 1453 L1851 1454 L1852 1456 L1853 1455 L1854 1454 L1855 1456 L1856 1455 L1857 1456 L1858 1452 L1859 1454 L1860 1454 L1861 1456 L1862 1454 L1863 1455 L1864 1455 L1865 1457 L1866 1455 L1867 1454 L1868 1457 L1869 1451 L1870 1455 L1871 1455 L1872 1456 L1873 1458 L1874 1452 L1875 1455 L1876 1454 L1877 1455 L1878 1455 L1879 1455 L1880 1454 L1881 1453 L1882 1453 L1883 1457 L1884 1451 L1885 1450 L1886 1453 L1887 1452 L1888 1451 L1889 1452 L1890 1451 L1891 1449 L1892 1450 L1893 1448 L1894 1445 L1895 1449 L1896 1442 L1897 1441 L1898 1438 L1899 1435 L1900 1434 L1901 1432 L1902 1433 L1903 1429 L1904 1423 L1905 1419 L1906 1417 L1907 1415 L1908 1411 L1909 1408 L1910 1408 L1911 1403 L1912 1401 L1913 1396 L1914 1397 L1915 1396 L1916 1395 L1917 1394 L1918 1395 L1919 1399 L1920 1398 L1921 1400 L1922 1402 L1923 1404 L1924 1407 L1925 1408 L1926 1408 L1927 1416 L1928 1420 L1929 1421 L1930 1424 L1931 1425 L1932 1429 L1933 1433 L1934 1434 L1935 1436 L1936 1440 L1937 1441 L1938 1439 L1939 1443 L1940 1444 L1941 1444 L1942 1443 L1943 1443 L1944 1442 L1945 1441 L1946 1439 L1947 1442 L1948 1435 L1949 1434 L1950 1432 L1951 1429 L1952 1425 L1953 1423 L1954 1417 L1955 1414 L1956 1414 L1957 1411 L1958 1408 L1959 1407 L1960 1401 L1961 1404 L1962 1400 L1963 1403 L1964 1405 L1965 1404 L1966 1404 L1967 1406 L1968 1405 L1969 1411 L1970 1415 L1971 1418 L1972 1420 L1973 1420 L1974 1425 L1975 1425 L1976 1435 L1977 1435 L1978 1437 L1979 1439 L1980 1443 L1981 1447 L1982 1445 L1983 1450 L1984 1449 L1985 1450 L1986 1452 L1987 1452 L1988 1454 L1989 1452 L1990 1453 L1991 1454 L1992 1454 L1993 1456 L1994 1454 L1995 1454 L1996 1455 L1997 1456 L1998 1456 L1999 1456 L2000 1457 L2001 1458 L2002 1456 L2003 1453 L2004 1455 L2005 1455 L2006 1455 L2007 1455 L2008 1455 L2009 1455 L2010 1454 L2011 1456 L2012 1454 L2013 1460 L2014 1457 L2015 1460 L2016 1455 L2017 1455 L2018 1454 L2019 1456 L2020 1456 L2021 1453 L2022 1457 L2023 1455 L2024 1456 L2025 1454 L2026 1455 L2027 1456 L2028 1455 L2029 1455 L2030 1456 L2031 1459 L2032 1457 L2033 1451 L2034 1459 L2035 1456 L2036 1454 L2037 1455 L2038 1456 L2039 1455 L2040 1455 L2041 1459 L2042 1455 L2043 1456 L2044 1455 L2045 1453 L2046 1456 L2047 1456 L2048 1456 L2049 1456 L2050 1456 L2051 1457 L2052 1457 L2053 1454 L2054 1457 L2055 1455 L2056 1460 L2057 1455 L2058 1454 L2059 1455 L2060 1456 L2061 1456 L2062 1453 L2063 1455 L2064 1456 L2065 1456 L2066 1455 L2067 1454 L2068 1454 L2069 1456 L2070 1456 L2071 1454 L2072 1454 L2073 1456 L2074 1454 L2075 1455 L2076 1454 L2077 1453 L2078 1455 L2079 1457 L2080 1453 L2081 1456 L2082 1454 L2083 1455 L2084 1458 L2085 1454 L2086 1453 L2087 1453 L2088 1453 L2089 1453 L2090 1455 L2091 1453 L2092 1452 L2093 1450 L2094 1453 L2095 1451 L2096 1449 L2097 1450 L2098 1447 L2099 1447 L2100 1447 L2101 1447 L2102 1441 L2103 1443 L2104 1439 L2105 1432 L2106 1432 L2107 1431 L2108 1427 L2109 1421 L2110 1417 L2111 1418 L2112 1412 L2113 1405 L2114 1401 L2115 1396 L2116 1391 L2117 1389 L2118 1382 L2119 1382 L2120 1379 L2121 1380 L2122 1381 L2123 1380 L2124 1381 L2125 1384 L2126 1386 L2127 1391 L2128 1395 L2129 1394 L2130 1402 L2131 1409 L2132 1413 L2133 1414 L2134 1419 L2135 1421 L2136 1426 L2137 1432 L2138 1431 L2139 1434 L2140 1437 L2141 1442 L2142 1439 L2143 1439 L2144 1440 L2145 1437 L2146 1439 L2147 1434 L2148 1439 L2149 1436 L2150 1436 L2151 1431 L2152 1432 L2153 1431 L2154 1431 L2155 1430 L2156 1430 L2157 1434 L2158 1432 L2159 1434 L2160 1436 L2161 1438 L2162 1441 L2163 1442 L2164 1442 L2165 1446 L2166 1449 L2167 1450 L2168 1448 L2169 1452 L2170 1452 L2171 1450 L2172 1451 L2173 1453 L2174 1454 L2175 1453 L2176 1452 L2177 1450 L2178 1445 L2179 1445 L2180 1446 L2181 1444 L2182 1442 L2183 1439 L2184 1436 L2185 1434 L2186 1432 L2187 1428 L2188 1425 L2189 1423 L2190 1418 L2191 1416 L2192 1412 L2193 1412 L2194 1409 L2195 1407 L2196 1405 L2197 1406 L2198 1407 L2199 1409 L2200 1408 L2201 1410 L2202 1410 L2203 1414 L2204 1419 L2205 1419 L2206 1422 L2207 1426 L2208 1429 L2209 1431 L2210 1435 L2211 1438 L2212 1439 L2213 1442 L2214 1448 L2215 1451 L2216 1450 L2217 1449 L2218 1452 L2219 1453 L2220 1453 L2221 1452 L2222 1455 L2223 1457 L2224 1458 L2225 1456 L2226 1456 L2227 1453 L2228 1457 L2229 1460 L2230 1456 L2231 1456 L2232 1460 L2233 1456 L2234 1457 L2235 1457 L2236 1457 L2237 1457 L2238 1458 L2239 1457 L2240 1457 L2241 1458 L2242 1456 L2243 1459 L2244 1456 L2245 1458 L2246 1457 L2247 1455 L2248 1457 L2249 1460 L2250 1456 L2251 1456 L2252 1460 L2253 1457 L2254 1459 L2255 1457 L2256 1457 L2257 1457 L2258 1462 L2259 1457 L2260 1458 L2261 1459 L2262 1458 L2263 1458 L2264 1456 L2265 1458 L2266 1460 L2267 1458 L2268 1458 L2269 1458 L2270 1459 L2271 1459 L2272 1458 L2273 1458 L2274 1460 L2275 1459 L2276 1458 L2277 1458 L2278 1459 L2279 1459 L2280 1460 L2281 1460" fill="none" stroke="#ff0000" stroke-width="9.5" stroke-linejoin="round"/>
<rect x="149.5" y="134.8" width="2134.2" height="1573.7" fill="none" stroke="#000" stroke-width="10.5"/>
<line x1="149.5" y1="1708" x2="149.5" y2="1730" stroke="#000" stroke-width="10"/>
<line x1="314.1" y1="1708" x2="314.1" y2="1743" stroke="#000" stroke-width="10"/>
<line x1="478.2" y1="1708" x2="478.2" y2="1730" stroke="#000" stroke-width="10"/>
<line x1="642.4" y1="1708" x2="642.4" y2="1743" stroke="#000" stroke-width="10"/>
<line x1="806.5" y1="1708" x2="806.5" y2="1730" stroke="#000" stroke-width="10"/>
<line x1="970.6" y1="1708" x2="970.6" y2="1743" stroke="#000" stroke-width="10"/>
<line x1="1134.8" y1="1708" x2="1134.8" y2="1730" stroke="#000" stroke-width="10"/>
<line x1="1298.9" y1="1708" x2="1298.9" y2="1743" stroke="#000" stroke-width="10"/>
<line x1="1463.0" y1="1708" x2="1463.0" y2="1730" stroke="#000" stroke-width="10"/>
<line x1="1627.2" y1="1708" x2="1627.2" y2="1743" stroke="#000" stroke-width="10"/>
<line x1="1791.3" y1="1708" x2="1791.3" y2="1730" stroke="#000" stroke-width="10"/>
<line x1="1955.4" y1="1708" x2="1955.4" y2="1743" stroke="#000" stroke-width="10"/>
<line x1="2119.6" y1="1708" x2="2119.6" y2="1730" stroke="#000" stroke-width="10"/>
<line x1="2283.7" y1="1708" x2="2283.7" y2="1743" stroke="#000" stroke-width="10"/>
<text x="312.1" y="1819" font-size="82" font-weight="bold" text-anchor="middle">20</text>
<text x="640.4" y="1819" font-size="82" font-weight="bold" text-anchor="middle">30</text>
<text x="968.6" y="1819" font-size="82" font-weight="bold" text-anchor="middle">40</text>
<text x="1296.9" y="1819" font-size="82" font-weight="bold" text-anchor="middle">50</text>
<text x="1625.2" y="1819" font-size="82" font-weight="bold" text-anchor="middle">60</text>
<text x="1953.4" y="1819" font-size="82" font-weight="bold" text-anchor="middle">70</text>
<text x="2281.7" y="1819" font-size="82" font-weight="bold" text-anchor="middle">80</text>
<text x="1029" y="1923" font-size="80" font-weight="bold" text-anchor="start">2-Theta</text>
<text x="1338" y="1923" font-size="80" text-anchor="start">(</text>
<text x="1366" y="1882.9" font-size="60" text-anchor="start">O</text>
<text x="1415" y="1923" font-size="80" text-anchor="start">)</text>
<text transform="translate(75,1215) rotate(-90)" font-size="80" font-weight="bold" letter-spacing="1.7">Intensity <tspan font-weight="normal">(</tspan>a.u<tspan font-weight="normal">)</tspan></text>
<text x="553" y="81.4" font-size="72" text-anchor="start">o</text>
<text x="616" y="81.4" font-size="80" font-weight="bold" text-anchor="start">TiO</text>
<text x="747" y="112.9" font-size="85" font-weight="bold" text-anchor="start">2</text>
<text x="812" y="81.4" font-size="80" font-weight="bold" text-anchor="start">Anatase</text>
<text x="1151" y="76" font-size="76" text-anchor="start">*</text>
<text x="1203" y="81.4" font-size="80" font-weight="bold" text-anchor="start">TiO</text>
<text x="1335.5" y="114.6" font-size="45" font-weight="bold" text-anchor="start">2</text>
<text x="1387" y="81.4" font-size="80" font-weight="bold" text-anchor="start">Rutile</text>
<text x="1632" y="81.4" font-size="80" font-weight="bold" text-anchor="start">#</text>
<text x="1698" y="81.4" font-size="80" font-weight="bold" text-anchor="start">Ag</text>
<text x="169.6" y="1377" font-size="82" text-anchor="start">(</text>
<text x="194.7" y="1377" font-size="82" font-weight="bold" text-anchor="start">2</text>
<text x="245.6" y="1377" font-size="82" text-anchor="start">)</text>
<text x="164" y="1551" font-size="82" text-anchor="start">(</text>
<text x="186" y="1551" font-size="82" font-weight="bold" text-anchor="start">1</text>
<text x="237.6" y="1551" font-size="82" text-anchor="start">)</text>
<text x="463.6" y="360.8" font-size="72" text-anchor="start">o</text>
<text x="542.8" y="1298.0" font-size="86" font-weight="bold" text-anchor="start">*</text>
<text x="821.7" y="1402.8" font-size="86" font-weight="bold" text-anchor="start">*</text>
<text x="841.5" y="1340.8" font-size="72" text-anchor="start">o</text>
<text x="885.0" y="1061.0" font-size="75" font-weight="bold" text-anchor="start">#</text>
<text x="911.4" y="1262.0" font-size="72" text-anchor="start">o</text>
<text x="1002.2" y="1427.8" font-size="86" font-weight="bold" text-anchor="start">*</text>
<text x="1081.3" y="1344.5" font-size="75" font-weight="bold" text-anchor="start">#</text>
<text x="1215.0" y="1150.3" font-size="72" text-anchor="start">o</text>
<text x="1400.3" y="1259.0" font-size="72" text-anchor="start">o</text>
<text x="1447.8" y="1247.6" font-size="72" text-anchor="start">o</text>
<text x="1504.0" y="1423.0" font-size="86" font-weight="bold" text-anchor="start">*</text>
<text x="1699.0" y="1297.3" font-size="72" text-anchor="start">o</text>
<text x="1749.7" y="1362.2" font-size="75" font-weight="bold" text-anchor="start">#</text>
<text x="1893.0" y="1380.5" font-size="72" text-anchor="start">o</text>
<text x="1945.0" y="1370.0" font-size="72" text-anchor="start">o</text>
<text x="2099.7" y="1342.0" font-size="72" text-anchor="start">o</text>
<text x="2130.3" y="1390.0" font-size="72" text-anchor="start">o</text>
<text x="2177.7" y="1374.0" font-size="75" font-weight="bold" text-anchor="start">#</text>
<path d="M1000.0 640.0 L1003.3 637.5 L1010.0 644.2 L1018.3 651.7 L1053.3 651.7 L1063.3 661.7 L1071.7 659.2 L1078.3 655.0 L1090.0 668.3 L1115.0 668.3 L1118.3 665.0 L1121.7 672.5 L1176.7 672.5 L1180.0 668.3 L1208.3 668.3 L1215.0 661.7 L1226.7 658.3 L1238.3 657.5 L1250.0 650.0 L1261.7 647.5 L1278.3 638.3 L1288.3 634.2 L1303.3 618.3 L1320.0 606.7 L1325.0 596.7 L1335.0 589.2 L1341.7 585.0 L1361.3 560.6 L1380.0 528.6 L1396.0 501.9 L1414.6 480.6 L1428.0 472.6 L1446.6 438.0 L1462.6 420.6 L1476.0 420.6 L1492.0 400.6 L1497.3 400.6 L1516.0 411.3 L1526.6 392.6 L1550.6 392.6 L1574.6 366.0 L1590.6 360.6 L1596.0 323.3 L1612.0 294.0 L1636.0 246.0 L1646.6 243.3 L1665.2 267.3 L1680.0 288.7 L1696.0 336.7 L1712.0 358.0 L1717.3 379.3 L1725.3 411.3 L1738.7 454.0 L1749.3 494.0 L1762.7 512.7 L1773.3 544.7 L1786.7 552.7 L1805.3 574.0 L1813.3 586.0 L1850.7 590.0 L1872.0 602.0 L1906.7 602.0 L1913.3 596.7 L1936.0 603.3 L1949.3 620.7 L1965.3 620.7 L1974.7 614.0 L1989.3 627.3 L2001.9 627.3 L2009.0 638.0 L2025.7 638.0 L2030.5 644.5 L2037.6 644.5 L2041.2 651.7 L2050.7 651.7 L2059.0 661.8 L2073.3 661.8 L2074.5 657.0 L2078.0 664.8 L2085.2 664.8 L2088.8 672.5 L2101.9 672.5 L2111.4 682.6 L2138.8 682.6 L2143.6 689.8 L2162.6 689.8 L2165.0 692.7 L2173.3 692.7 L2175.7 696.9 L2216.2 696.9" fill="none" stroke="#ff0000" stroke-width="4.5" stroke-linejoin="round"/>
<path d="M1000.0 823.3 L1010.0 822.5 L1016.7 816.7 L1028.3 826.7 L1053.3 826.7 L1061.7 832.5 L1073.3 840.0 L1088.3 840.0 L1098.3 846.7 L1116.7 846.7 L1121.7 854.2 L1153.3 854.2 L1156.7 857.5 L1176.7 857.5 L1190.0 850.8 L1231.7 850.8 L1241.7 843.3 L1255.0 843.3 L1278.3 831.7 L1290.0 830.0 L1306.7 813.3 L1326.7 801.7 L1333.3 790.0 L1345.0 775.0 L1360.0 754.0 L1380.0 734.0 L1398.6 700.0 L1414.6 680.5 L1430.6 661.9 L1441.3 659.2 L1452.0 635.2 L1465.3 627.2 L1484.0 616.6 L1500.0 608.6 L1513.3 624.6 L1529.3 620.6 L1553.3 648.6 L1564.0 664.6 L1580.0 683.1 L1587.9 695.7 L1606.7 714.6 L1616.1 728.7 L1625.6 731.9 L1635.0 750.7 L1646.0 758.6 L1657.0 768.0 L1666.4 780.6 L1674.3 785.3 L1688.4 791.6 L1705.7 808.9 L1724.6 812.0 L1734.0 819.9 L1749.7 823.0 L1760.7 830.1 L1823.6 830.1 L1829.8 833.2 L1842.4 833.2 L1850.3 827.7 L1867.6 818.3 L1878.6 815.1 L1895.8 815.1 L1903.1 809.5 L1925.1 809.5 L1928.3 805.6 L1962.9 805.6 L1973.9 810.3 L1988.0 813.4 L2002.1 817.4 L2019.4 826.0 L2038.3 826.0 L2050.8 840.1 L2063.4 840.9 L2069.7 848.0 L2088.6 857.4 L2102.7 858.2 L2107.4 864.5 L2124.7 864.5 L2140.4 873.9 L2157.7 881.8 L2167.1 881.0 L2173.4 875.5 L2186.0 877.9 L2190.7 881.8 L2201.7 881.8 L2204.8 884.9 L2215.8 884.9" fill="none" stroke="#000" stroke-width="4.5" stroke-linejoin="round"/>
<line x1="1646.8" y1="240" x2="1646.8" y2="833" stroke="#000" stroke-width="5.5"/>
<line x1="998.8" y1="123" x2="998.8" y2="1040" stroke="#000" stroke-width="6.5"/>
<line x1="996" y1="1019" x2="2220" y2="1019" stroke="#000" stroke-width="6.5"/>
<line x1="998.8" y1="1019" x2="998.8" y2="1040.5" stroke="#000" stroke-width="6.5"/>
<line x1="1150.0" y1="1019" x2="1150.0" y2="1032" stroke="#000" stroke-width="6.5"/>
<line x1="1300.9" y1="1019" x2="1300.9" y2="1040.5" stroke="#000" stroke-width="6.5"/>
<line x1="1454.9" y1="1019" x2="1454.9" y2="1032" stroke="#000" stroke-width="6.5"/>
<line x1="1606.3" y1="1019" x2="1606.3" y2="1040.5" stroke="#000" stroke-width="6.5"/>
<line x1="1760.6" y1="1019" x2="1760.6" y2="1032" stroke="#000" stroke-width="6.5"/>
<line x1="1911.4" y1="1019" x2="1911.4" y2="1040.5" stroke="#000" stroke-width="6.5"/>
<line x1="2065.7" y1="1019" x2="2065.7" y2="1032" stroke="#000" stroke-width="6.5"/>
<line x1="2216.8" y1="1019" x2="2216.8" y2="1040.5" stroke="#000" stroke-width="6.5"/>
<text transform="translate(994.1,1085.5) scale(0.92,1)" font-size="50" text-anchor="middle">37.0</text>
<text transform="translate(1299.7,1085.5) scale(0.92,1)" font-size="50" text-anchor="middle">37.5</text>
<text transform="translate(1606.1,1085.5) scale(0.92,1)" font-size="50" text-anchor="middle">38.0</text>
<text transform="translate(1911.7,1085.5) scale(0.92,1)" font-size="50" text-anchor="middle">38.5</text>
<text transform="translate(2214.2,1085.5) scale(0.92,1)" font-size="50" text-anchor="middle">39.0</text>
<text transform="translate(1502.4,1143) scale(0.98,1)" font-size="48">2-Theta</text>
<text x="1676.8" y="1143" font-size="48" text-anchor="start">(</text>
<text x="1692" y="1119.6" font-size="33" text-anchor="start">O</text>
<text x="1720.8" y="1143" font-size="48" text-anchor="start">)</text>
<text transform="translate(957,740.5) rotate(-90)" font-size="48" font-weight="bold">Intensity <tspan font-weight="normal">(</tspan>a.u<tspan font-weight="normal">)</tspan></text>
<text x="1629.4" y="229.9" font-size="76" font-weight="bold" text-anchor="start">#</text>
<text x="1473" y="392.6" font-size="66" font-weight="bold" text-anchor="start">o</text>
<text x="1930.3" y="602" font-size="66" font-weight="bold" text-anchor="start">o</text>
</svg>
</body></html>
